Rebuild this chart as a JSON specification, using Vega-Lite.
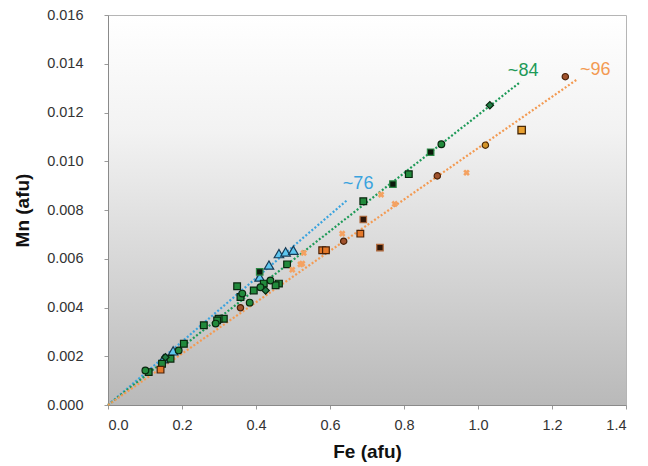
{
  "$schema": "https://vega.github.io/schema/vega-lite/v6.json",
  "width": 518,
  "height": 390,
  "autosize": {"type": "none"},
  "padding": {"left": 108, "top": 15, "right": 22, "bottom": 61},
  "config": {
    "font": "Liberation Sans",
    "view": {
      "fill": {"gradient": "linear", "x1": 0, "y1": 0, "x2": 0, "y2": 1,
        "stops": [{"offset": 0, "color": "#ffffff"}, {"offset": 0.3, "color": "#f2f2f2"}, {"offset": 1, "color": "#b9b9b9"}]},
      "stroke": "#b5b5b5"
    },
    "axis": {
      "grid": false,
      "domainColor": "#8a8a8a",
      "tickColor": "#9a9a9a",
      "tickSize": 4,
      "labelFont": "Liberation Sans",
      "labelFontSize": 14.5,
      "labelColor": "#333333",
      "titleFont": "Liberation Sans",
      "titleFontSize": 19,
      "titleFontWeight": "bold",
      "titleColor": "#111111"
    }
  },
  "datasets": {
    "pts": [
      {"s": "A", "fe": 0.462, "mn": 0.00621},
      {"s": "A", "fe": 0.480, "mn": 0.00628},
      {"s": "A", "fe": 0.501, "mn": 0.00635},
      {"s": "A", "fe": 0.435, "mn": 0.00574},
      {"s": "A", "fe": 0.410, "mn": 0.00525},
      {"s": "A", "fe": 0.150, "mn": 0.00190},
      {"s": "A", "fe": 0.176, "mn": 0.00222},
      {"s": "B", "fe": 0.813, "mn": 0.00947},
      {"s": "B", "fe": 0.690, "mn": 0.00836},
      {"s": "B", "fe": 0.484, "mn": 0.00577},
      {"s": "B", "fe": 0.462, "mn": 0.00498},
      {"s": "B", "fe": 0.421, "mn": 0.00498},
      {"s": "B", "fe": 0.394, "mn": 0.00470},
      {"s": "B", "fe": 0.453, "mn": 0.00491},
      {"s": "B", "fe": 0.349, "mn": 0.00487},
      {"s": "B", "fe": 0.358, "mn": 0.00443},
      {"s": "B", "fe": 0.313, "mn": 0.00354},
      {"s": "B", "fe": 0.299, "mn": 0.00354},
      {"s": "B", "fe": 0.295, "mn": 0.00347},
      {"s": "B", "fe": 0.259, "mn": 0.00327},
      {"s": "B", "fe": 0.205, "mn": 0.00251},
      {"s": "B", "fe": 0.169, "mn": 0.00190},
      {"s": "B", "fe": 0.146, "mn": 0.00169},
      {"s": "B", "fe": 0.110, "mn": 0.00135},
      {"s": "C", "fe": 0.901, "mn": 0.01070},
      {"s": "C", "fe": 0.439, "mn": 0.00511},
      {"s": "C", "fe": 0.412, "mn": 0.00483},
      {"s": "C", "fe": 0.363, "mn": 0.00457},
      {"s": "C", "fe": 0.383, "mn": 0.00420},
      {"s": "C", "fe": 0.291, "mn": 0.00334},
      {"s": "C", "fe": 0.191, "mn": 0.00224},
      {"s": "C", "fe": 0.101, "mn": 0.00142},
      {"s": "D", "fe": 1.032, "mn": 0.01230},
      {"s": "D", "fe": 0.426, "mn": 0.00470},
      {"s": "D", "fe": 0.155, "mn": 0.00196},
      {"s": "E", "fe": 0.770, "mn": 0.00906},
      {"s": "E", "fe": 0.872, "mn": 0.01037},
      {"s": "E", "fe": 0.410, "mn": 0.00546},
      {"s": "F", "fe": 0.969, "mn": 0.00953},
      {"s": "F", "fe": 0.775, "mn": 0.00825},
      {"s": "F", "fe": 0.738, "mn": 0.00863},
      {"s": "F", "fe": 0.633, "mn": 0.00703},
      {"s": "F", "fe": 0.525, "mn": 0.00580},
      {"s": "F", "fe": 0.529, "mn": 0.00624},
      {"s": "F", "fe": 0.520, "mn": 0.00577},
      {"s": "F", "fe": 0.498, "mn": 0.00555},
      {"s": "G", "fe": 0.682, "mn": 0.00703},
      {"s": "G", "fe": 0.579, "mn": 0.00635},
      {"s": "G", "fe": 0.589, "mn": 0.00635},
      {"s": "G", "fe": 0.142, "mn": 0.00145},
      {"s": "H", "fe": 1.236, "mn": 0.01347},
      {"s": "H", "fe": 0.890, "mn": 0.00940},
      {"s": "H", "fe": 0.637, "mn": 0.00672},
      {"s": "H", "fe": 0.358, "mn": 0.00399},
      {"s": "I", "fe": 0.690, "mn": 0.00761},
      {"s": "I", "fe": 0.735, "mn": 0.00646},
      {"s": "J", "fe": 1.118, "mn": 0.01128},
      {"s": "K", "fe": 1.020, "mn": 0.01066}
    ],
    "lines": [
      {"line": "76", "fe": 0, "mn": 0},
      {"line": "76", "fe": 0.646, "mn": 0.0084},
      {"line": "84", "fe": 0, "mn": 0},
      {"line": "84", "fe": 1.115, "mn": 0.01326},
      {"line": "96", "fe": 0, "mn": 0},
      {"line": "96", "fe": 1.268, "mn": 0.01336}
    ],
    "labels": [
      {"line": "76", "label": "~76", "fe": 0.676, "mn": 0.00906},
      {"line": "84", "label": "~84", "fe": 1.122, "mn": 0.01371},
      {"line": "96", "label": "~96", "fe": 1.317, "mn": 0.01374}
    ]
  },
  "encoding": {
    "x": {"field": "fe", "type": "quantitative", "title": "Fe (afu)",
      "scale": {"domain": [0, 1.4], "nice": false},
      "axis": {"values": [0, 0.2, 0.4, 0.6, 0.8, 1.0, 1.2, 1.4], "format": ".1f", "labelPadding": 9, "titlePadding": 11}},
    "y": {"field": "mn", "type": "quantitative", "title": "Mn (afu)",
      "scale": {"domain": [0, 0.016], "nice": false},
      "axis": {"values": [0, 0.002, 0.004, 0.006, 0.008, 0.01, 0.012, 0.014, 0.016], "format": ".3f", "labelPadding": 21, "titlePadding": 14}}
  },
  "layer": [
    {
      "data": {"name": "lines"},
      "mark": {"type": "line", "strokeDash": [2, 2], "strokeWidth": 2.2},
      "encoding": {
        "color": {"field": "line", "type": "nominal", "legend": null,
          "scale": {"domain": ["76", "84", "96"], "range": ["#3aa3de", "#1e9a58", "#f39a52"]}},
        "detail": {"field": "line"}
      }
    },
    {
      "data": {"name": "labels"},
      "mark": {"type": "text", "fontSize": 18, "font": "Liberation Sans"},
      "encoding": {
        "text": {"field": "label"},
        "color": {"field": "line", "type": "nominal", "legend": null}
      }
    },
    {
      "data": {"name": "pts"},
      "transform": [{"filter": "datum.s === 'A'"}],
      "mark": {"type": "point", "shape": "triangle-up", "filled": true, "size": 90, "fill": "#5ec6ef", "stroke": "#173a55", "strokeWidth": 1.2, "opacity": 1}
    },
    {
      "data": {"name": "pts"},
      "transform": [{"filter": "datum.s === 'B'"}],
      "mark": {"type": "point", "shape": "square", "filled": true, "size": 45, "fill": "#228a3c", "stroke": "#0a260f", "strokeWidth": 1.2, "opacity": 1}
    },
    {
      "data": {"name": "pts"},
      "transform": [{"filter": "datum.s === 'C'"}],
      "mark": {"type": "point", "shape": "circle", "filled": true, "size": 45, "fill": "#228a3c", "stroke": "#0a260f", "strokeWidth": 1.2, "opacity": 1}
    },
    {
      "data": {"name": "pts"},
      "transform": [{"filter": "datum.s === 'D'"}],
      "mark": {"type": "point", "shape": "diamond", "filled": true, "size": 55, "fill": "#1f7d45", "stroke": "#0a260f", "strokeWidth": 1.2, "opacity": 1}
    },
    {
      "data": {"name": "pts"},
      "transform": [{"filter": "datum.s === 'E'"}],
      "mark": {"type": "point", "shape": "square", "filled": true, "size": 42, "fill": "#0c1a0c", "stroke": "#2b8a45", "strokeWidth": 1.2, "opacity": 1}
    },
    {
      "data": {"name": "pts"},
      "transform": [{"filter": "datum.s === 'F'"}],
      "mark": {"type": "point", "shape": "cross", "angle": 45, "filled": true, "size": 45, "fill": "#f4a262", "strokeWidth": 0, "opacity": 1}
    },
    {
      "data": {"name": "pts"},
      "transform": [{"filter": "datum.s === 'G'"}],
      "mark": {"type": "point", "shape": "square", "filled": true, "size": 45, "fill": "#e4782a", "stroke": "#4a2208", "strokeWidth": 1.2, "opacity": 1}
    },
    {
      "data": {"name": "pts"},
      "transform": [{"filter": "datum.s === 'H'"}],
      "mark": {"type": "point", "shape": "circle", "filled": true, "size": 40, "fill": "#a0522d", "stroke": "#4a2208", "strokeWidth": 1.2, "opacity": 1}
    },
    {
      "data": {"name": "pts"},
      "transform": [{"filter": "datum.s === 'I'"}],
      "mark": {"type": "point", "shape": "square", "filled": true, "size": 42, "fill": "#2e1608", "stroke": "#b0683a", "strokeWidth": 1.2, "opacity": 1}
    },
    {
      "data": {"name": "pts"},
      "transform": [{"filter": "datum.s === 'J'"}],
      "mark": {"type": "point", "shape": "square", "filled": true, "size": 55, "fill": "#e8a030", "stroke": "#4a2a08", "strokeWidth": 1.3, "opacity": 1}
    },
    {
      "data": {"name": "pts"},
      "transform": [{"filter": "datum.s === 'K'"}],
      "mark": {"type": "point", "shape": "circle", "filled": true, "size": 40, "fill": "#d49428", "stroke": "#4a2a08", "strokeWidth": 1.2, "opacity": 1}
    }
  ]
}
